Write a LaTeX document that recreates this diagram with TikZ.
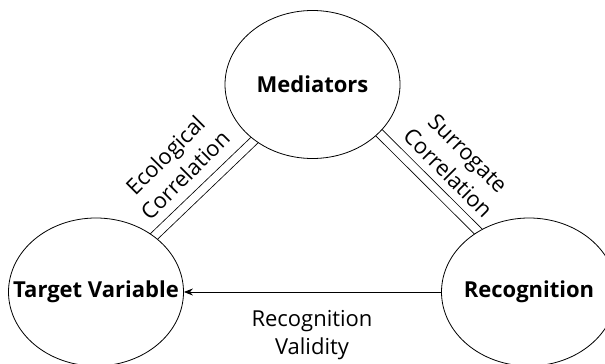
\documentclass[tikz,border=0pt]{standalone}
\usepackage{fontspec}
\setmainfont{Open Sans}
\usetikzlibrary{shapes.geometric,arrows.meta,backgrounds}

\tikzset{
  blob/.style={ellipse, draw, fill=white, line width=0.8pt,
    minimum width=175pt, minimum height=148pt, inner sep=0pt},
  varlabel/.style={font=\fontsize{22}{28}\selectfont\bfseries, inner sep=0pt},
  edgelabel/.style={font=\fontsize{22}{28}\selectfont, align=center, inner sep=0pt},
  corr/.style={draw=black, line width=0.8pt, double=white, double distance=8pt}
}

\begin{document}
\begin{tikzpicture}[x=1pt,y=-1pt]
\useasboundingbox (0,0) rectangle (605,364);
% the three variables
\node[blob] (med) at (312.5,84.5) {};
\node[blob] (tv) at (96,292) {};
\node[blob] (rec) at (529,292) {};
\node[varlabel] (medtxt) at (med) {Mediators};
\node[varlabel] (tvtxt) at (tv) {Target Variable};
\node[varlabel] (rectxt) at (rec) {Recognition};
% correlations go underneath, the white ellipses cut them off
\begin{pgfonlayer}{background}
\draw[corr] (med.center) -- (tv.center);
\draw[corr, shorten <=-30pt, shorten >=-30pt] (med.-36) -- (rec.130);
\end{pgfonlayer}
\draw[line width=0.8pt, -{Stealth[length=9pt,width=7pt]}] (rec) -- (tv);
% labels
\node[edgelabel, rotate=45] (eco) at (175,165) {Ecological\\Correlation};
\node[edgelabel, rotate=-45] (sur) at (458,163) {Surrogate\\Correlation};
\node[edgelabel] (val) at (312,335) {Recognition\\Validity};
\end{tikzpicture}
\end{document}
